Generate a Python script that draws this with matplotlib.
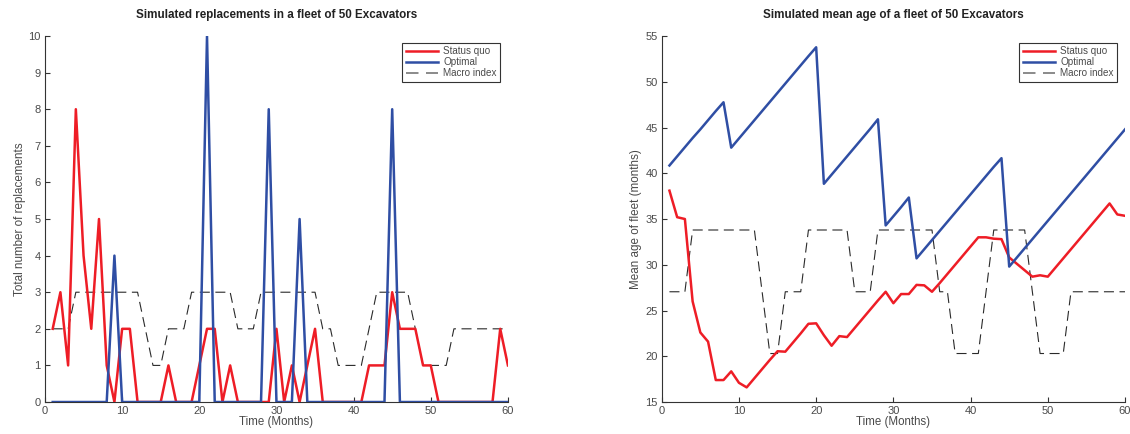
#!/usr/bin/env python3
"""Simulated replacements / mean fleet age for 50 excavators (status quo vs optimal)."""

import matplotlib

matplotlib.use("Agg")
import matplotlib.pyplot as plt

# ---------------------------------------------------------------------------
# data
# ---------------------------------------------------------------------------

months = list(range(1, 61))

# macro index level (1 = low, 2 = mid, 3 = high)
macro_level = [2, 2, 2, 3, 3, 3, 3, 3, 3, 3,
               3, 3, 2, 1, 1, 2, 2, 2, 3, 3,
               3, 3, 3, 3, 2, 2, 2, 3, 3, 3,
               3, 3, 3, 3, 3, 2, 2, 1, 1, 1,
               1, 2, 3, 3, 3, 3, 3, 2, 1, 1,
               1, 1, 2, 2, 2, 2, 2, 2, 2, 2]
# same index rescaled onto the age axis
macro_age = {1: 20.3, 2: 27.05, 3: 33.8}

repl_status_quo = [2, 3, 1, 8, 4, 2, 5, 1, 0, 2,
                   2, 0, 0, 0, 0, 1, 0, 0, 0, 1,
                   2, 2, 0, 1, 0, 0, 0, 0, 0, 2,
                   0, 1, 0, 1, 2, 0, 0, 0, 0, 0,
                   0, 1, 1, 1, 3, 2, 2, 2, 1, 1,
                   0, 0, 0, 0, 0, 0, 0, 0, 2, 1]
repl_optimal = [0, 0, 0, 0, 0, 0, 0, 0, 4, 0,
                0, 0, 0, 0, 0, 0, 0, 0, 0, 0,
                10, 0, 0, 0, 0, 0, 0, 0, 8, 0,
                0, 0, 5, 0, 0, 0, 0, 0, 0, 0,
                0, 0, 0, 0, 8, 0, 0, 0, 0, 0,
                0, 0, 0, 0, 0, 0, 0, 0, 0, 0]

age_status_quo = [38.1, 35.2, 35.0, 26.0, 22.6, 21.6, 17.4, 17.4, 18.35, 17.1,
                  16.6, 17.6, 18.6, 19.6, 20.55, 20.5, 21.5, 22.5, 23.55, 23.6,
                  22.3, 21.15, 22.2, 22.1, 23.1, 24.1, 25.1, 26.1, 27.05, 25.8,
                  26.8, 26.8, 27.8, 27.75, 27.05, 28.0, 29.0, 30.0, 31.0, 32.0,
                  33.0, 33.0, 32.85, 32.8, 30.8, 30.1, 29.4, 28.7, 28.85, 28.7,
                  29.7, 30.7, 31.7, 32.7, 33.7, 34.7, 35.7, 36.7, 35.5, 35.35]
age_optimal = [40.85, 41.85, 42.85, 43.85, 44.8, 45.8, 46.8, 47.76, 42.8, 43.8,
               44.8, 45.8, 46.8, 47.8, 48.8, 49.8, 50.8, 51.8, 52.8, 53.77,
               38.85, 39.85, 40.85, 41.85, 42.85, 43.85, 44.85, 45.9, 34.3, 35.3,
               36.3, 37.35, 30.7, 31.7, 32.7, 33.7, 34.7, 35.7, 36.7, 37.7,
               38.7, 39.7, 40.7, 41.65, 29.8, 30.8, 31.8, 32.8, 33.8, 34.8,
               35.8, 36.8, 37.8, 38.8, 39.8, 40.8, 41.8, 42.8, 43.8, 44.8]

series_labels = ["Status quo", "Optimal", "Macro index"]

# ---------------------------------------------------------------------------
# style
# ---------------------------------------------------------------------------

RED = "#ee1d26"
BLUE = "#2f4ea4"
DASH = "#2a2a2a"
AXIS = "#333333"
TEXT = "#4a4a4a"

plt.rcParams["font.family"] = ["Liberation Sans", "DejaVu Sans"]
plt.rcParams["font.size"] = 7


def style_axes(ax, ylim, yticks, ylabel, title):
    ax.set_xlim(0, 60)
    ax.set_ylim(*ylim)
    ax.set_xticks(range(0, 61, 10))
    ax.set_yticks(yticks)
    for side in ("top", "right"):
        ax.spines[side].set_visible(False)
    for side in ("left", "bottom"):
        ax.spines[side].set_color(AXIS)
        ax.spines[side].set_linewidth(0.8)
    ax.tick_params(direction="in", length=3.5, width=0.8, color=AXIS,
                   labelcolor=TEXT, labelsize=8, pad=3)
    ax.set_xlabel("Time (Months)", fontsize=8.3, color=TEXT, labelpad=0)
    ax.set_ylabel(ylabel, fontsize=8.4, color=TEXT, labelpad=2)
    ax.set_title(title, fontsize=8.4, fontweight="bold", color="#222222", pad=13)
    leg = ax.legend(series_labels, loc="upper right",
                    bbox_to_anchor=(0.983, 0.981), borderaxespad=0,
                    fancybox=False, framealpha=1, edgecolor="#333333",
                    handlelength=3.3, labelspacing=0.1, borderpad=0.35,
                    handletextpad=0.5, fontsize=7.1)
    leg.get_frame().set_linewidth(0.8)
    for t in leg.get_texts():
        t.set_color(TEXT)
    # legend shows the macro line as two long grey dashes
    dash_handle = leg.get_lines()[2]
    dash_handle.set_color("#777777")
    dash_handle.set_linewidth(1.2)
    dash_handle.set_dashes((7.5, 4.5))


fig = plt.figure(figsize=(11.3, 4.34), dpi=100)
ax1 = fig.add_axes([0.0398, 0.0737, 0.4097, 0.8433])
ax2 = fig.add_axes([0.5856, 0.0737, 0.4100, 0.8433])

# -- replacements -----------------------------------------------------------
ax1.plot(months, repl_status_quo, color=RED, lw=1.8, zorder=3)
ax1.plot(months, repl_optimal, color=BLUE, lw=1.8, zorder=3)
ax1.plot(months, macro_level, color=DASH, lw=0.8, dashes=(9, 5), zorder=2)
style_axes(ax1, (0, 10), range(0, 11), "Total number of replacements",
           "Simulated replacements in a fleet of 50 Excavators")

# -- mean age ---------------------------------------------------------------
ax2.plot(months, age_status_quo, color=RED, lw=1.8, zorder=3)
ax2.plot(months, age_optimal, color=BLUE, lw=1.8, zorder=3)
ax2.plot(months, [macro_age[v] for v in macro_level], color=DASH, lw=0.8,
         dashes=(9, 5), zorder=2)
style_axes(ax2, (15, 55), range(15, 56, 5), "Mean age of fleet (months)",
           "Simulated mean age of a fleet of 50 Excavators")

fig.savefig("out.png", dpi=100)
